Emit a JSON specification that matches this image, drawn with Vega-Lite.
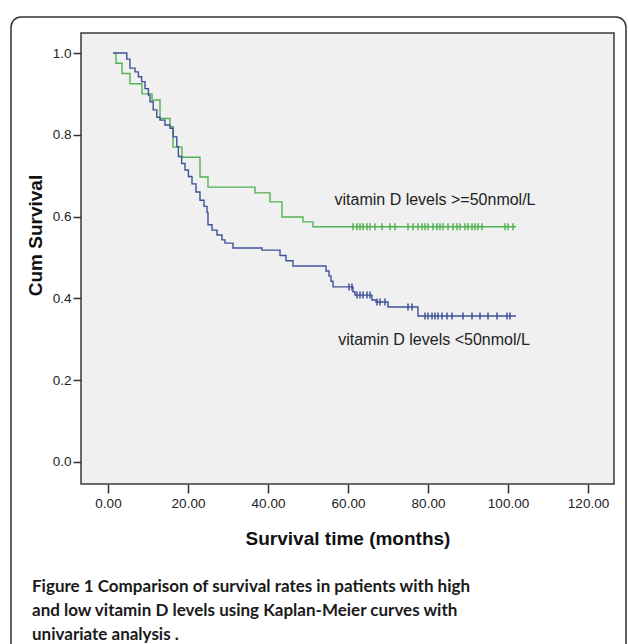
{
  "$schema": "https://vega.github.io/schema/vega-lite/v6.json",
  "width": 533,
  "height": 451,
  "autosize": {"type": "none"},
  "padding": {"left": 81, "top": 33, "right": 14, "bottom": 160},
  "background": "white",
  "config": {
    "view": {"stroke": "#3a3a3a", "strokeWidth": 1.5, "fill": "#f0f0f0"},
    "font": "Liberation Sans"
  },
  "title": {
    "text": [
      "Figure 1 Comparison of survival rates in patients with high",
      "and low vitamin D levels using Kaplan-Meier curves with",
      "univariate analysis ."
    ],
    "orient": "bottom",
    "anchor": "start",
    "frame": "group",
    "dx": -49,
    "offset": -88,
    "baseline": "top",
    "font": "Lato",
    "fontSize": 17,
    "fontWeight": "bold",
    "color": "#1a1a1a",
    "lineHeight": 24
  },
  "datasets": {
    "curves": [
      {"group": "high", "t": 1.25, "s": 1.0},
      {"group": "high", "t": 2, "s": 0.975},
      {"group": "high", "t": 3.5, "s": 0.95},
      {"group": "high", "t": 5.5, "s": 0.925},
      {"group": "high", "t": 8.5, "s": 0.9},
      {"group": "high", "t": 11, "s": 0.885},
      {"group": "high", "t": 13, "s": 0.84},
      {"group": "high", "t": 15.5, "s": 0.82},
      {"group": "high", "t": 16.25, "s": 0.77},
      {"group": "high", "t": 18.5, "s": 0.745},
      {"group": "high", "t": 23, "s": 0.697},
      {"group": "high", "t": 25, "s": 0.672},
      {"group": "high", "t": 36.75, "s": 0.658},
      {"group": "high", "t": 40.5, "s": 0.636},
      {"group": "high", "t": 43.5, "s": 0.599},
      {"group": "high", "t": 48.75, "s": 0.587},
      {"group": "high", "t": 51.25, "s": 0.575},
      {"group": "high", "t": 102, "s": 0.575},
      {"group": "low", "t": 1.3, "s": 1.0},
      {"group": "low", "t": 4.7, "s": 0.985},
      {"group": "low", "t": 5.5, "s": 0.963},
      {"group": "low", "t": 6.75, "s": 0.954},
      {"group": "low", "t": 7.6, "s": 0.942},
      {"group": "low", "t": 8.4, "s": 0.93},
      {"group": "low", "t": 9.25, "s": 0.913},
      {"group": "low", "t": 10.1, "s": 0.897},
      {"group": "low", "t": 10.5, "s": 0.881},
      {"group": "low", "t": 11.3, "s": 0.861},
      {"group": "low", "t": 12.2, "s": 0.843},
      {"group": "low", "t": 13, "s": 0.836},
      {"group": "low", "t": 14.25, "s": 0.824},
      {"group": "low", "t": 15.5, "s": 0.816},
      {"group": "low", "t": 16.3, "s": 0.795},
      {"group": "low", "t": 17.2, "s": 0.771},
      {"group": "low", "t": 17.6, "s": 0.747},
      {"group": "low", "t": 18.4, "s": 0.73},
      {"group": "low", "t": 19.25, "s": 0.714},
      {"group": "low", "t": 20.1, "s": 0.698},
      {"group": "low", "t": 21, "s": 0.68},
      {"group": "low", "t": 22, "s": 0.66},
      {"group": "low", "t": 23, "s": 0.64},
      {"group": "low", "t": 24, "s": 0.625},
      {"group": "low", "t": 24.75, "s": 0.61},
      {"group": "low", "t": 25, "s": 0.58},
      {"group": "low", "t": 26, "s": 0.567},
      {"group": "low", "t": 27.25, "s": 0.555},
      {"group": "low", "t": 28.5, "s": 0.543},
      {"group": "low", "t": 29.25, "s": 0.535},
      {"group": "low", "t": 31.25, "s": 0.523},
      {"group": "low", "t": 38.5, "s": 0.518},
      {"group": "low", "t": 43, "s": 0.505},
      {"group": "low", "t": 44.5, "s": 0.492},
      {"group": "low", "t": 46.25, "s": 0.479},
      {"group": "low", "t": 54.5, "s": 0.467},
      {"group": "low", "t": 55.25, "s": 0.455},
      {"group": "low", "t": 55.75, "s": 0.442},
      {"group": "low", "t": 56.25, "s": 0.428},
      {"group": "low", "t": 61.25, "s": 0.416},
      {"group": "low", "t": 61.75, "s": 0.408},
      {"group": "low", "t": 66, "s": 0.396},
      {"group": "low", "t": 67, "s": 0.391},
      {"group": "low", "t": 70, "s": 0.379},
      {"group": "low", "t": 77.5, "s": 0.357},
      {"group": "low", "t": 102, "s": 0.357}
    ],
    "censored": [
      {"group": "high", "t": 61.25, "s": 0.575},
      {"group": "high", "t": 62.25, "s": 0.575},
      {"group": "high", "t": 63, "s": 0.575},
      {"group": "high", "t": 63.75, "s": 0.575},
      {"group": "high", "t": 64.75, "s": 0.575},
      {"group": "high", "t": 65.5, "s": 0.575},
      {"group": "high", "t": 66.75, "s": 0.575},
      {"group": "high", "t": 68.5, "s": 0.575},
      {"group": "high", "t": 70.5, "s": 0.575},
      {"group": "high", "t": 71.75, "s": 0.575},
      {"group": "high", "t": 75, "s": 0.575},
      {"group": "high", "t": 76.25, "s": 0.575},
      {"group": "high", "t": 77.5, "s": 0.575},
      {"group": "high", "t": 78.5, "s": 0.575},
      {"group": "high", "t": 79.25, "s": 0.575},
      {"group": "high", "t": 80, "s": 0.575},
      {"group": "high", "t": 81.25, "s": 0.575},
      {"group": "high", "t": 82.25, "s": 0.575},
      {"group": "high", "t": 83, "s": 0.575},
      {"group": "high", "t": 83.75, "s": 0.575},
      {"group": "high", "t": 85, "s": 0.575},
      {"group": "high", "t": 86.25, "s": 0.575},
      {"group": "high", "t": 87.25, "s": 0.575},
      {"group": "high", "t": 88, "s": 0.575},
      {"group": "high", "t": 89.25, "s": 0.575},
      {"group": "high", "t": 90, "s": 0.575},
      {"group": "high", "t": 91, "s": 0.575},
      {"group": "high", "t": 91.75, "s": 0.575},
      {"group": "high", "t": 92.5, "s": 0.575},
      {"group": "high", "t": 93.5, "s": 0.575},
      {"group": "high", "t": 99.25, "s": 0.575},
      {"group": "high", "t": 100, "s": 0.575},
      {"group": "high", "t": 101.25, "s": 0.575},
      {"group": "low", "t": 60.25, "s": 0.428},
      {"group": "low", "t": 61, "s": 0.428},
      {"group": "low", "t": 62.25, "s": 0.408},
      {"group": "low", "t": 63, "s": 0.408},
      {"group": "low", "t": 63.75, "s": 0.408},
      {"group": "low", "t": 64.75, "s": 0.408},
      {"group": "low", "t": 65.5, "s": 0.408},
      {"group": "low", "t": 67.25, "s": 0.391},
      {"group": "low", "t": 68, "s": 0.391},
      {"group": "low", "t": 69.25, "s": 0.391},
      {"group": "low", "t": 75, "s": 0.379},
      {"group": "low", "t": 76, "s": 0.379},
      {"group": "low", "t": 79.25, "s": 0.357},
      {"group": "low", "t": 80, "s": 0.357},
      {"group": "low", "t": 81, "s": 0.357},
      {"group": "low", "t": 81.75, "s": 0.357},
      {"group": "low", "t": 82.5, "s": 0.357},
      {"group": "low", "t": 83.5, "s": 0.357},
      {"group": "low", "t": 84.75, "s": 0.357},
      {"group": "low", "t": 86, "s": 0.357},
      {"group": "low", "t": 88.75, "s": 0.357},
      {"group": "low", "t": 91, "s": 0.357},
      {"group": "low", "t": 93, "s": 0.357},
      {"group": "low", "t": 95, "s": 0.357},
      {"group": "low", "t": 97.25, "s": 0.357},
      {"group": "low", "t": 99.75, "s": 0.357},
      {"group": "low", "t": 100.5, "s": 0.357}
    ],
    "labels": [
      {"t": 81.75, "s": 0.64, "label": "vitamin D levels >=50nmol/L"},
      {"t": 81.5, "s": 0.298, "label": "vitamin D levels <50nmol/L"}
    ]
  },
  "layer": [
    {
      "data": {"values": [{"frame": "figure"}]},
      "mark": {"type": "rect", "fill": null, "stroke": "#333333", "strokeWidth": 1.5, "cornerRadius": 10, "clip": false},
      "encoding": {
        "x": {"datum": -24.25, "type": "quantitative", "scale": {"domain": [-6.75, 126.5], "nice": false, "zero": false}},
        "x2": {"datum": 129.5},
        "y": {"datum": 1.088, "type": "quantitative", "scale": {"domain": [-0.054, 1.049], "nice": false, "zero": false}},
        "y2": {"datum": -0.5}
      }
    },
    {
      "data": {"name": "curves"},
      "mark": {"type": "line", "interpolate": "step-after", "strokeWidth": 1.4},
      "encoding": {
        "x": {
          "field": "t", "type": "quantitative",
          "scale": {"domain": [-6.75, 126.5], "nice": false, "zero": false},
          "axis": {
            "values": [0, 20, 40, 60, 80, 100, 120], "format": ".2f",
            "title": "Survival time (months)", "grid": false, "domain": false,
            "tickSize": 9, "tickColor": "#333333", "tickWidth": 1.5,
            "labelFontSize": 13.5, "labelColor": "#222222", "labelPadding": 3,
            "labelFont": "Liberation Sans", "labelFlush": false, "labelOverlap": false,
            "titleFont": "Liberation Sans", "titleFontSize": 19, "titleFontWeight": "bold",
            "titleColor": "#111111", "titlePadding": 20
          }
        },
        "y": {
          "field": "s", "type": "quantitative",
          "scale": {"domain": [-0.054, 1.049], "nice": false, "zero": false},
          "axis": {
            "values": [0, 0.2, 0.4, 0.6, 0.8, 1.0], "format": ".1f",
            "title": "Cum Survival", "grid": false, "domain": false,
            "tickSize": 8, "tickColor": "#333333", "tickWidth": 1.5,
            "labelFontSize": 13.5, "labelColor": "#222222", "labelPadding": 2,
            "labelFont": "Liberation Sans",
            "titleFont": "Liberation Sans", "titleFontSize": 19, "titleFontWeight": "bold",
            "titleColor": "#111111", "titleAngle": 270, "titleX": -46, "titleY": 202,
            "titleAlign": "center", "titleBaseline": "middle"
          }
        },
        "color": {"field": "group", "type": "nominal", "scale": {"domain": ["high", "low"], "range": ["#52b152", "#3f5299"]}, "legend": null}
      }
    },
    {
      "data": {"name": "censored"},
      "mark": {"type": "point", "shape": "M0,-1L0,1", "size": 49, "strokeWidth": 1.5, "filled": false, "opacity": 1},
      "encoding": {
        "x": {"field": "t", "type": "quantitative", "scale": {"domain": [-6.75, 126.5], "nice": false, "zero": false}},
        "y": {"field": "s", "type": "quantitative", "scale": {"domain": [-0.054, 1.049], "nice": false, "zero": false}},
        "color": {"field": "group", "type": "nominal", "scale": {"domain": ["high", "low"], "range": ["#52b152", "#3f5299"]}, "legend": null}
      }
    },
    {
      "data": {"name": "labels"},
      "mark": {"type": "text", "font": "Liberation Sans", "fontSize": 16, "color": "#222222", "align": "center", "baseline": "middle"},
      "encoding": {
        "x": {"field": "t", "type": "quantitative", "scale": {"domain": [-6.75, 126.5], "nice": false, "zero": false}},
        "y": {"field": "s", "type": "quantitative", "scale": {"domain": [-0.054, 1.049], "nice": false, "zero": false}},
        "text": {"field": "label", "type": "nominal"}
      }
    }
  ]
}
